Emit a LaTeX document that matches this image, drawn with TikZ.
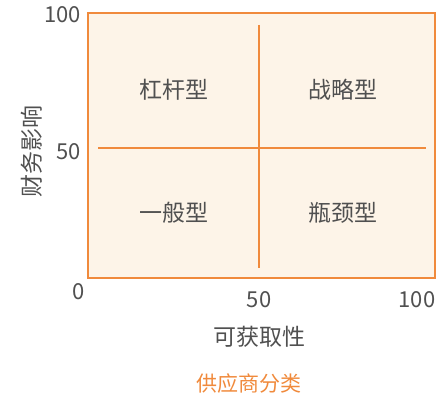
\documentclass[tikz,border=0pt]{standalone}
\usepackage{fontspec}
\setmainfont{Noto Sans CJK SC}
\definecolor{orng}{HTML}{F08A3C}
\definecolor{fillc}{HTML}{FDF4E8}
\definecolor{txt}{HTML}{505050}
\begin{document}
\begin{tikzpicture}[x=1pt,y=1pt,
  lbl/.style={font=\fontsize{22}{26}\selectfont, text=txt, inner sep=0pt},
  ql/.style={font=\fontsize{23}{27}\selectfont, text=txt, inner sep=0pt},
  divider/.style={draw=orng, line width=2.2pt}]
\useasboundingbox (0,0) rectangle (439,399);
\node[draw=orng, line width=2.8pt, fill=fillc, minimum width=347pt, minimum height=265pt, inner sep=0pt] (box) at (261.5,253.5) {};
\coordinate (hl) at (98,251);
\coordinate (hr) at (426,251);
\coordinate (vt) at (259,374);
\coordinate (vb) at (259,131);
\draw[divider] (hl) -- (hr);
\draw[divider] (vt) -- (vb);
\node[ql] (q1) at (174,309) {杠杆型};
\node[ql] (q2) at (343,309) {战略型};
\node[ql] (q3) at (174,186) {一般型};
\node[ql] (q4) at (343,186) {瓶颈型};
\node[lbl, anchor=east] (y100) at (81,384) {100};
\node[lbl, anchor=east] (y50) at (81,247) {50};
\node[lbl] (y0) at (79,107) {0};
\node[lbl] (x50) at (259,99) {50};
\node[lbl] (x100) at (417,99) {100};
\node[lbl, font=\fontsize{23}{27}\selectfont] (xt) at (259,62) {可获取性};
\node[lbl, font=\fontsize{23}{27}\selectfont, rotate=90] (yt) at (32,247) {财务影响};
\node[lbl, text=orng, font=\fontsize{21}{25}\selectfont] (cap) at (248.5,15) {供应商分类};
\end{tikzpicture}
\end{document}
